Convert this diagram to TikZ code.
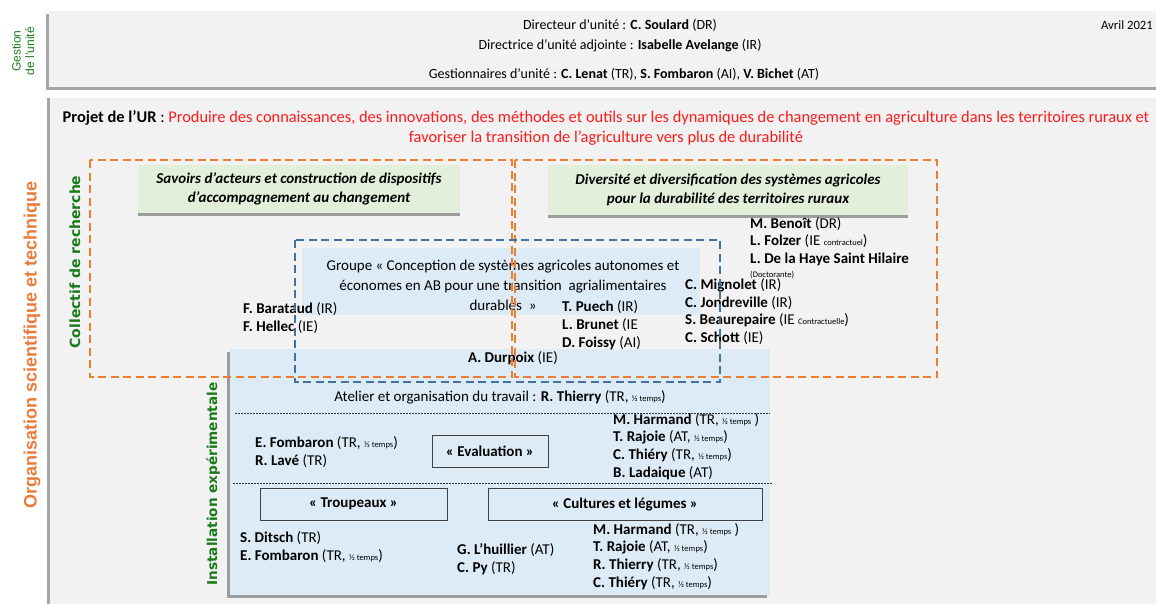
\documentclass[tikz,border=0pt]{standalone}
\usepackage{fontspec}
\setmainfont{Carlito}
\newfontfamily\arialf{Liberation Sans}
\newfontfamily\verdf{DejaVu Sans}
\usetikzlibrary{shadows}
\definecolor{bggray}{HTML}{F2F2F2}
\definecolor{lblue}{HTML}{DDEBF7}
\definecolor{lgreen}{HTML}{E2EFDA}
\definecolor{orgdash}{HTML}{ED7D31}
\definecolor{bluedash}{HTML}{41719C}
\definecolor{dgreen}{HTML}{1A7A1A}
\definecolor{orgtxt}{HTML}{EC7B3A}
\definecolor{redtxt}{HTML}{FF1A1A}
\newcommand\pname[2]{\textbf{#1} #2}
\newcommand\sm[1]{{\fontsize{8.5}{9}\selectfont #1}}
\tikzset{
  txt/.style={inner sep=0pt, font=\fontsize{14}{16}\selectfont},
  names/.style={anchor=west, align=left, inner sep=0pt, font=\fontsize{15}{17.7}\selectfont},
  greenbox/.style={fill=lgreen, inner sep=2pt, align=center, font=\fontsize{15}{19}\selectfont\bfseries\itshape,
     drop shadow={shadow xshift=0pt, shadow yshift=-3pt, fill=black, opacity=.35}},
  labbox/.style={draw=black!75, line width=0.8pt, inner sep=0pt, font=\fontsize{15}{16}\selectfont\bfseries},
  odash/.style={draw=orgdash, line width=2.4pt, dash pattern=on 8pt off 4.5pt},
  bdash/.style={draw=bluedash, line width=2.4pt, dash pattern=on 8pt off 4.5pt},
  sep/.style={draw=black!80, line width=0.6pt, dash pattern=on 2pt off 1pt},
  vlab/.style={rotate=90, inner sep=0pt, text=dgreen, font=\verdf\bfseries\fontsize{14}{15}\selectfont}
}
\begin{document}
\begin{tikzpicture}[x=1pt,y=-1pt]
\useasboundingbox (0,0) rectangle (1156,603);
\fill[white] (0,0) rectangle (1156,603);
% top box
\path[fill=bggray, drop shadow={shadow xshift=-3pt, shadow yshift=-3pt, fill=black, opacity=.35}] (49,11) rectangle (1170,87);
% main box
\path[fill=bggray, drop shadow={shadow xshift=-3pt, shadow yshift=0pt, fill=black, opacity=.35}] (50,98) rectangle (1170,620);
% labels left
\node (gl) [rotate=90, align=center, inner sep=0pt, text=dgreen, font=\arialf\fontsize{12}{13.5}\selectfont] at (23,51) {Gestion\\de l’unité};
\node (org) [rotate=90, inner sep=0pt, text=orgtxt, font=\arialf\bfseries\fontsize{18}{20}\selectfont] at (32,345) {Organisation scientifique et technique};
\node (col) [vlab] at (75,262) {Collectif de recherche};
% top texts
\node (dir) [txt] at (620,25) {Directeur d’unité : \textbf{C. Soulard} (DR)};
\node (dira) [txt] at (620,46) {Directrice d’unité adjointe : \textbf{Isabelle Avelange} (IR)};
\node (gest) [txt] at (624,74) {Gestionnaires d’unité : \textbf{C. Lenat} (TR), \textbf{S. Fombaron} (AI), \textbf{V. Bichet} (AT)};
\node (date) [txt, anchor=east, font=\fontsize{12.7}{14}\selectfont] at (1153,25) {Avril 2021};
% project
\node (proj) [inner sep=0pt, align=center, font=\fontsize{16.4}{20}\selectfont] at (606,128) {\textbf{Projet de l’UR} : \textcolor{redtxt}{Produire des connaissances, des innovations, des méthodes et outils sur les dynamiques de changement en agriculture dans les territoires ruraux et}\\\textcolor{redtxt}{favoriser la transition de l’agriculture vers plus de durabilité}};
% green boxes
\node (sav) [greenbox, minimum width=322pt, minimum height=48pt] at (299,189) {Savoirs d’acteurs et construction de dispositifs\\d’accompagnement au changement};
\node (div) [greenbox, minimum width=360pt, minimum height=50pt] at (728,190) {Diversité et diversification des systèmes agricoles\\pour la durabilité des territoires ruraux};
% groupe box
\path[fill=lblue] (302,248) rectangle (700,315);
\node (grp) [inner sep=0pt, align=center, font=\fontsize{15}{20}\selectfont] at (503,285) {Groupe « Conception de systèmes agricoles autonomes et\\économes en AB pour une transition\ \ agrialimentaires\\durables\ \ »};
% experimental box
\path[fill=lblue, drop shadow={shadow xshift=-3pt, shadow yshift=-3pt, fill=black, opacity=.35}] (230,349) rectangle (770,595);
\node (ins) [vlab, font=\verdf\bfseries\fontsize{13.6}{15}\selectfont] at (213,484) {Installation expérimentale};
% names research
\node (bar) [names] at (243,318) {\pname{F. Barataud}{(IR)}\\\pname{F. Hellec}{(IE)}};
\node (pue) [names] at (562,325) {\pname{T. Puech}{(IR)}\\\pname{L. Brunet}{(IE}\\\pname{D. Foissy}{(AI)}};
\node (mig) [names] at (685,311.5) {\pname{C. Mignolet}{(IR)}\\\pname{C. Jondreville}{(IR)}\\\pname{S. Beaurepaire}{(IE \sm{Contractuelle})}\\\pname{C. Schott}{(IE)}};
\node (ben) [names] at (750,241.5) {\pname{M. Benoît}{(DR)}\\\pname{L. Folzer}{(IE \sm{contractuel})}\\\textbf{L. De la Haye Saint Hilaire}};
\node (doc) [anchor=west, inner sep=0pt] at (750,275) {\sm{(Doctorante)}};
\node (dur) [names, anchor=center] at (513,358) {\pname{A. Durpoix}{(IE)}};
% experimental install
\node (ate) [names, anchor=center] at (500,397) {Atelier et organisation du travail : \pname{R. Thierry}{(TR, \sm{½ temps})}};
\draw[sep] (235,413) -- (770,413);
\node (efo) [names] at (255,452) {\pname{E. Fombaron}{(TR, \sm{½ temps})}\\\pname{R. Lavé}{(TR)}};
\node (eva) [labbox, minimum width=116pt, minimum height=32pt] at (490,451) {« Evaluation »};
\node (har) [names] at (613,446.5) {\pname{M. Harmand}{(TR, \sm{½ temps} )}\\\pname{T. Rajoie}{(AT, \sm{½ temps})}\\\pname{C. Thiéry}{(TR, \sm{½ temps})}\\\pname{B. Ladaique}{(AT)}};
\draw[sep] (233,483) -- (773,483);
\node (tro) [labbox, minimum width=187pt, minimum height=32pt] at (353.5,504) {« Troupeaux »};
\node (cul) [labbox, minimum width=274pt, minimum height=32pt] at (625,504) {« Cultures et légumes »};
\node (dit) [names] at (240,547) {\pname{S. Ditsch}{(TR)}\\\pname{E. Fombaron}{(TR, \sm{½ temps})}};
\node (lhu) [names] at (457,559) {\pname{G. L’huillier}{(AT)}\\\pname{C. Py}{(TR)}};
\node (har2) [names] at (593,556.5) {\pname{M. Harmand}{(TR, \sm{½ temps} )}\\\pname{T. Rajoie}{(AT, \sm{½ temps})}\\\pname{R. Thierry}{(TR, \sm{½ temps})}\\\pname{C. Thiéry}{(TR, \sm{½ temps})}};
% dashed frames
\draw[odash] (90,160) rectangle (512,377);
\draw[odash] (515,160) rectangle (937,377);
\draw[bdash] (295,240) rectangle (720,382);
\end{tikzpicture}
\end{document}
